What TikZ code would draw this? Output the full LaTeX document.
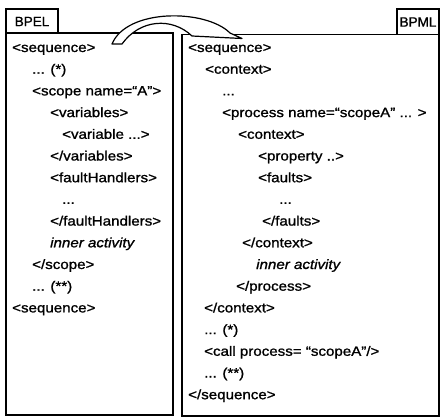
\documentclass[tikz,border=0pt]{standalone}
\usepackage{fontspec}
\setmainfont{Liberation Sans}
\newfontfamily\codefont[FakeStretch=1.12, FakeBold=1.2]{Liberation Sans}
\newfontfamily\tabfont[FakeBold=1.2]{Liberation Sans}
\begin{document}
\begin{tikzpicture}[x=1pt,y=-1pt,
  code/.style={anchor=base west, inner sep=0pt, font=\fontsize{13.5}{16}\codefont},
  codeit/.style={code, font=\fontsize{13.5}{16}\codefont\itshape},
  frame/.style={draw=black, line width=1.2pt},
  tab/.style={frame, fill=white},
  tablabel/.style={inner sep=0pt, font=\fontsize{13.5}{16}\tabfont},
  bigarrow/.style={draw=black, fill=white, line width=1.2pt, line join=round},
]
\useasboundingbox (0,0) rectangle (442,420);

% the two panels
\draw[frame] (6,33) rectangle (173,415);
\draw[frame] (182,34.5) rectangle (439,416);

% panel tabs
\draw[tab] (6,9) rectangle (58,33);
\node[tablabel] (bpel) at (32,21.5) {BPEL};
\draw[tab] (397,9) rectangle (439,34.5);
\node[tablabel] (bpml) at (418,22) {BPML};

% curved block arrow from the BPEL panel over to the BPML panel
\draw[bigarrow] (112,44) .. controls (127,8) and (206,9) .. (230,33)
  -- (242,38.5) -- (192,36)
  .. controls (172,17) and (140,19) .. (122,44) -- cycle;

% BPEL listing
\node[code] (l0) at (12,52) {<sequence>};
\node[code] (l1) at (32,73.7) {... (*)};
\node[code] (l2) at (32,95.4) {<scope name=“A”>};
\node[code] (l3) at (50,117.1) {<variables>};
\node[code] (l4) at (62,138.8) {<variable ...>};
\node[code] (l5) at (50,160.5) {</variables>};
\node[code] (l6) at (50,182.2) {<faultHandlers>};
\node[code] (l7) at (62,203.9) {...};
\node[code] (l8) at (50,225.6) {</faultHandlers>};
\node[codeit] (l9) at (50,247.3) {inner activity};
\node[code] (l10) at (32,269) {</scope>};
\node[code] (l11) at (32,290.7) {... (**)};
\node[code] (l12) at (12,312.4) {<sequence>};

% BPML listing
\node[code] (r0) at (188,52) {<sequence>};
\node[code] (r1) at (205,73.7) {<context>};
\node[code] (r2) at (222,95.4) {...};
\node[code] (r3) at (222,117.1) {<process name=“scopeA” ... >};
\node[code] (r4) at (238,138.8) {<context>};
\node[code] (r5) at (258,160.5) {<property ..>};
\node[code] (r6) at (258,182.2) {<faults>};
\node[code] (r7) at (279,203.9) {...};
\node[code] (r8) at (262,225.6) {</faults>};
\node[code] (r9) at (242,247.3) {</context>};
\node[codeit] (r10) at (256,269) {inner activity};
\node[code] (r11) at (236,290.7) {</process>};
\node[code] (r12) at (204,312.4) {</context>};
\node[code] (r13) at (204,334.1) {... (*)};
\node[code] (r14) at (204,355.8) {<call process= “scopeA”/>};
\node[code] (r15) at (204,377.5) {... (**)};
\node[code] (r16) at (188,399.2) {</sequence>};
\end{tikzpicture}
\end{document}
